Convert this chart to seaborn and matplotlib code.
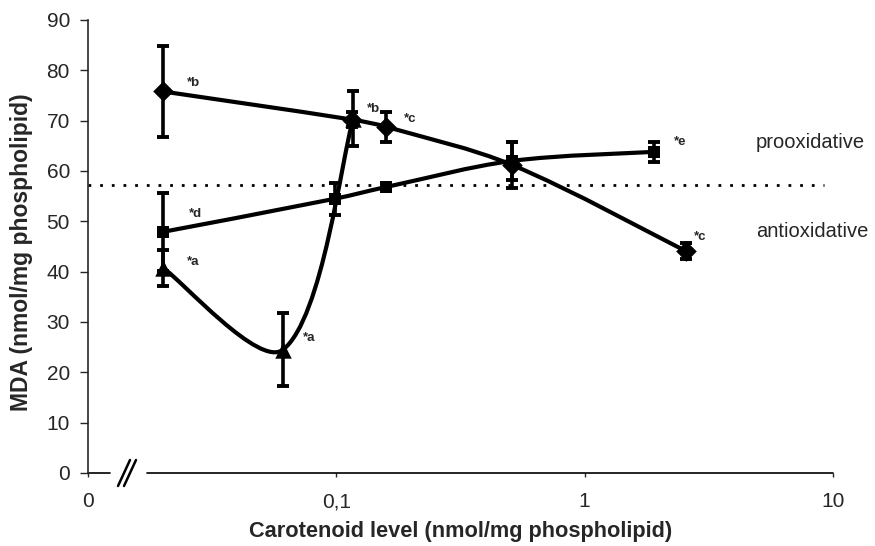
import numpy as np
import matplotlib.pyplot as plt
from matplotlib.path import Path
from matplotlib.patches import PathPatch
import seaborn as sns

# carotenoid level (nmol/mg phospholipid) vs MDA (nmol/mg phospholipid)
x_diamond = [0.02, 0.116, 0.158, 0.51, 2.55]
y_diamond = [75.8, 70.2, 68.8, 61.2, 44.1]
e_diamond = [9.0, 1.5, 3.0, 4.5, 1.5]
lab_diamond = ['*b', '', '*c', '', '*c']

x_square = [0.02, 0.099, 0.158, 0.51, 1.9]
y_square = [47.9, 54.5, 56.8, 62.0, 63.8]
e_square = [7.7, 3.2, 0.8, 3.8, 2.0]
lab_square = ['*d', '', '', '', '*e']

x_triangle = [0.02, 0.061, 0.117]
y_triangle = [40.8, 24.5, 70.4]
e_triangle = [3.6, 7.2, 5.4]
lab_triangle = ['*a', '*a', '*b']

threshold = 57.2
x_ticks = [0.01, 0.1, 1, 10]
x_ticklabels = ['0', '0,1', '1', '10']
y_ticks = list(range(0, 100, 10))

sns.set_style('ticks')
plt.rcParams['font.family'] = ['Liberation Sans', 'DejaVu Sans']

# pixel scale of the plot, used only to weight the smoothing
PX_DECADE = 248.0
PX_UNIT = 5.03


def smooth_path(xs, ys):
    # excel-like smoothed line, chord-weighted catmull-rom -> cubic bezier
    pts = np.column_stack([np.log10(xs) * PX_DECADE,
                           np.asarray(ys, float) * PX_UNIT])
    n = len(pts)
    tang = []
    for i in range(n):
        p0 = pts[max(i - 1, 0)]
        p2 = pts[min(i + 1, n - 1)]
        tang.append(p2 - p0)
    seg = [np.linalg.norm(pts[i + 1] - pts[i]) for i in range(n - 1)]
    verts = [pts[0]]
    codes = [Path.MOVETO]
    for i in range(n - 1):
        dl = seg[i - 1] if i > 0 else seg[i]
        dr = seg[i + 1] if i + 1 < n - 1 else seg[i]
        c1 = pts[i] + tang[i] * seg[i] / (dl + seg[i]) / 3
        c2 = pts[i + 1] - tang[i + 1] * seg[i] / (seg[i] + dr) / 3
        verts += [c1, c2, pts[i + 1]]
        codes += [Path.CURVE4] * 3
    verts = np.array(verts)
    verts[:, 0] = 10 ** (verts[:, 0] / PX_DECADE)
    verts[:, 1] = verts[:, 1] / PX_UNIT
    return Path(verts, codes)


fig = plt.figure(figsize=(8.75, 5.46), dpi=100)
ax = fig.add_axes([0.1006, 0.1337, 0.8514, 0.8297])
ax.set_xscale('log')
ax.set_xlim(0.01, 10)
ax.set_ylim(0, 90)

# threshold line
ax.plot([0.01, 9.2], [threshold, threshold], color='black', lw=2,
        ls=(0, (1, 3.2)), zorder=1)

series = [
    (x_diamond, y_diamond, e_diamond, lab_diamond, 'D', 110),
    (x_square, y_square, e_square, lab_square, 's', 80),
    (x_triangle, y_triangle, e_triangle, lab_triangle, '^', 140),
]

for xs, ys, es, labs, mk, sz in series:
    ax.add_patch(PathPatch(smooth_path(xs, ys), facecolor='none',
                           edgecolor='black', lw=3, zorder=2,
                           capstyle='round', joinstyle='round'))
    ax.errorbar(xs, ys, yerr=es, fmt='none', ecolor='black', elinewidth=2.6,
                capsize=4.5, capthick=2.8, zorder=3)
    sns.scatterplot(x=xs, y=ys, marker=mk, s=sz, color='black',
                    edgecolor='black', linewidth=0, ax=ax, zorder=4)

offsets = {
    (0, 0): (24, 8), (0, 2): (18, 8), (0, 4): (8, 14),
    (1, 0): (26, 18), (1, 4): (20, 10),
    (2, 0): (24, 6), (2, 1): (20, 12), (2, 2): (14, 10),
}
for si, (xs, ys, es, labs, mk, sz) in enumerate(series):
    for pi, lab in enumerate(labs):
        if lab:
            ax.annotate(lab, (xs[pi], ys[pi]), xytext=offsets[(si, pi)],
                        textcoords='offset pixels', fontsize=9.5,
                        fontweight='bold', ha='left', va='center')

ax.text(4.9, 65.6, 'prooxidative', fontsize=14.5, va='center', ha='left')
ax.text(4.9, 47.9, 'antioxidative', fontsize=14.5, va='center', ha='left')

ax.set_xticks(x_ticks)
ax.set_xticklabels(x_ticklabels)
ax.xaxis.set_minor_locator(plt.NullLocator())
ax.set_yticks(y_ticks)
ax.tick_params(axis='y', length=6, width=1, pad=7, labelsize=15)
ax.tick_params(axis='x', length=3, width=1, pad=11, labelsize=15)

# broken x axis
sns.despine(ax=ax)
ax.spines['bottom'].set_visible(False)
ax.spines['left'].set_linewidth(1.2)
frac_a = (110 - 88) / 745
frac_b = (147 - 88) / 745
ax.plot([0, frac_a], [0, 0], transform=ax.transAxes, color='black', lw=1.2,
        clip_on=False)
ax.plot([frac_b, 1], [0, 0], transform=ax.transAxes, color='black', lw=1.2,
        clip_on=False)
for dx in (0, 6):
    ax.plot([118 + dx, 130 + dx], [546 - 486, 546 - 460], color='black',
            lw=1.8, transform=None, clip_on=False)

ax.set_xlabel('Carotenoid level (nmol/mg phospholipid)', fontsize=15.7,
              fontweight='bold')
ax.set_ylabel('MDA (nmol/mg phospholipid)', fontsize=16.5, fontweight='bold')
ax.xaxis.set_label_coords(0.5, -0.105)
ax.yaxis.set_label_coords(-0.074, 0.488)

fig.savefig('out.png', dpi=100)
